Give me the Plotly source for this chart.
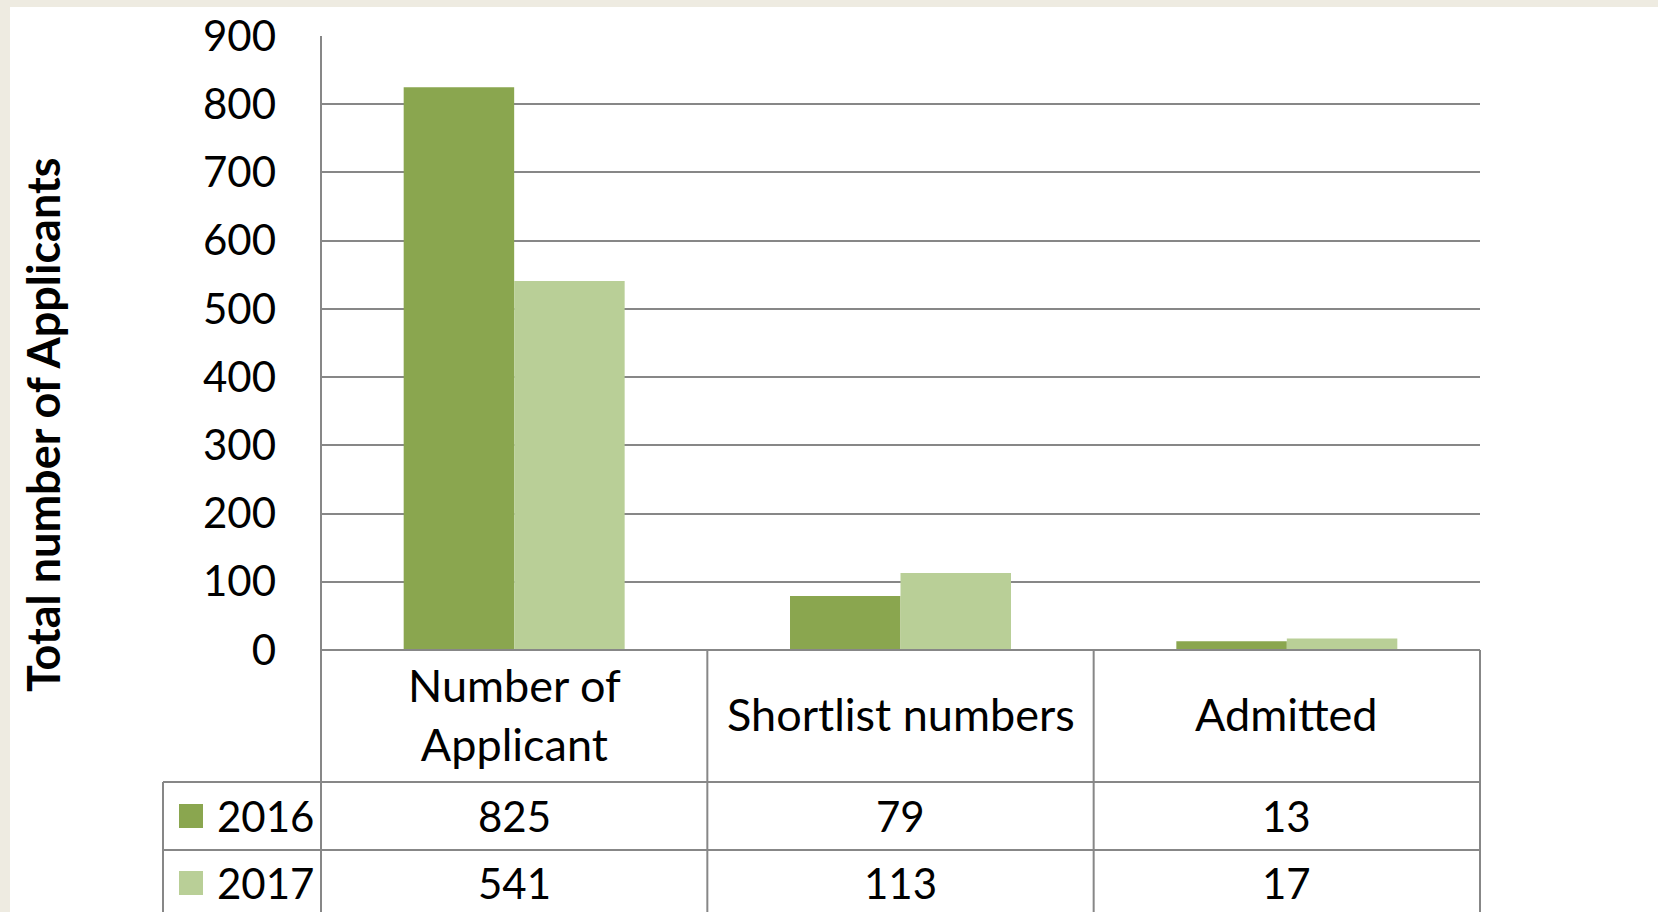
import plotly.graph_objects as go

categories = ["Number of Applicant", "Shortlist numbers", "Admitted"]
category_labels = ["Number of<br>Applicant", "Shortlist numbers", "Admitted"]
series_names = ["2016", "2017"]
values_2016 = [825, 79, 13]
values_2017 = [541, 113, 17]
y_ticks = [0, 100, 200, 300, 400, 500, 600, 700, 800, 900]

colors = {"2016": "#8AA64F", "2017": "#B9CF97"}
FONT = "Lato, 'Open Sans', sans-serif"
GRID = "#878787"

fig = go.Figure()
for name, vals in zip(series_names, [values_2016, values_2017]):
    fig.add_trace(go.Bar(
        x=categories, y=vals, name=name,
        marker=dict(color=colors[name], line=dict(width=0)),
        showlegend=False,
    ))

W, H = 1658, 912
L, R, T, B = 321, 1480, 36, 650
pw, ph = R - L, B - T


def px_x(p):
    return (p - L) / pw


def px_y(p):
    return (B - p) / ph


shapes = []
# white page over beige frame
shapes.append(dict(type="rect", xref="paper", yref="paper",
                   x0=px_x(10), x1=px_x(W + 20), y0=px_y(H + 20), y1=px_y(7),
                   fillcolor="white", line=dict(width=0), layer="below"))

line_style = dict(color=GRID, width=2)
row_lines_px = [650, 782, 850]
table_bottom = px_y(H + 20)
# horizontal table lines
shapes.append(dict(type="line", xref="paper", yref="paper", x0=0, x1=1,
                   y0=px_y(650), y1=px_y(650), line=line_style))
for ypx in row_lines_px[1:]:
    shapes.append(dict(type="line", xref="paper", yref="paper", x0=px_x(163), x1=1,
                       y0=px_y(ypx), y1=px_y(ypx), line=line_style))
# vertical table lines
for xp in [0, 1 / 3, 2 / 3, 1]:
    top = 1 if xp == 0 else 0
    shapes.append(dict(type="line", xref="paper", yref="paper", x0=xp, x1=xp,
                       y0=top, y1=table_bottom, line=line_style))
shapes.append(dict(type="line", xref="paper", yref="paper", x0=px_x(163), x1=px_x(163),
                   y0=px_y(782), y1=table_bottom, line=line_style))

annotations = []
header_font = dict(family=FONT, size=45, color="black")
num_font = dict(family=FONT, size=42, color="black")
# header row
for cat, lab in zip(categories, category_labels):
    annotations.append(dict(x=cat, xref="x", y=px_y(714), yref="paper", text=lab,
                            showarrow=False, font=header_font, xanchor="center", yanchor="middle"))
# data rows
row_centers = [px_y(816), px_y(883)]
for name, vals, yc in zip(series_names, [values_2016, values_2017], row_centers):
    for cat, v in zip(categories, vals):
        annotations.append(dict(x=cat, xref="x", y=yc, yref="paper", text=str(v),
                                showarrow=False, font=num_font, xanchor="center", yanchor="middle"))
    annotations.append(dict(x=px_x(215), xref="paper", y=yc, yref="paper", text=name,
                            showarrow=False, font=num_font, xanchor="left", yanchor="middle"))
    sq = 12
    ycpx = B - yc * ph
    shapes.append(dict(type="rect", xref="paper", yref="paper",
                       x0=px_x(179), x1=px_x(203), y0=px_y(ycpx + sq), y1=px_y(ycpx - sq),
                       fillcolor=colors[name], line=dict(width=0)))

annotations.append(dict(x=px_x(43), xref="paper", y=px_y(425), yref="paper",
                        text="Total number of Applicants", textangle=-90,
                        showarrow=False,
                        font=dict(family=FONT, size=45, color="black", weight=700),
                        xanchor="center", yanchor="middle"))

fig.update_layout(
    width=W, height=H,
    margin=dict(l=L, r=W - R, t=T, b=H - B, autoexpand=False),
    paper_bgcolor="#EEEBE1", plot_bgcolor="white",
    barmode="group", bargap=0.428, bargroupgap=0,
    shapes=shapes, annotations=annotations,
    font=dict(family=FONT, color="black"),
)
fig.update_xaxes(showticklabels=False, showgrid=False, zeroline=False, showline=False,
                 ticks="", range=[-0.5, 2.5])
fig.update_yaxes(range=[0, 900], tickvals=y_ticks, ticktext=[str(t) for t in y_ticks],
                 showgrid=True, gridcolor=GRID, gridwidth=2, zeroline=False,
                 showline=False, ticks="", ticklabelstandoff=44,
                 tickfont=dict(family=FONT, size=42, color="black"))

fig.write_html("out.html", config={"displayModeBar": False},
               post_script="document.body.style.margin='0px';document.body.style.overflow='hidden';")
